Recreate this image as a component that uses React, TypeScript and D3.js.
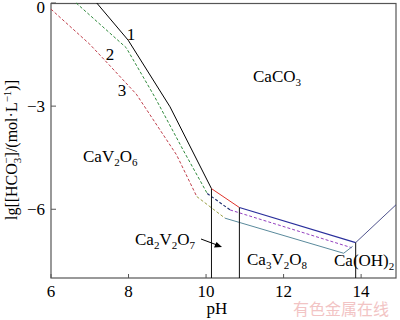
import React from 'react'
import * as d3 from 'd3'

type Pt = [number, number] // [pH, lg c]

// curve 1 (solid), split by solid phase
const c1CaV2O6: Pt[] = [[7.18, 0], [7.99, -1.08], [9.07, -3.02], [10.14, -5.4]]
const c1Ca2V2O7: Pt[] = [[10.14, -5.4], [10.86, -5.95]]
const c1Ca3V2O8: Pt[] = [[10.86, -5.95], [13.86, -6.97]]
const c1CaOH2: Pt[] = [[13.86, -6.97], [14.9, -5.87]]

// curve 2 (dashed)
const c2CaV2O6: Pt[] = [[6.65, 0], [7.94, -1.3], [8.67, -2.72], [9.41, -4.28], [10.03, -5.54]]
const c2Ca2V2O7: Pt[] = [[10.03, -5.54], [10.62, -6.02]]
const c2Ca3V2O8: Pt[] = [[10.62, -6.02], [13.76, -7.12]]

// curve 3 (dashed)
const c3CaV2O6: Pt[] = [[6.0, -0.18], [7.0, -1.2], [7.5, -1.8], [8.2, -2.65], [9.24, -4.42], [9.76, -5.63]]
const c3Ca2V2O7: Pt[] = [[9.76, -5.63], [10.49, -6.26]]
const c3Ca3V2O8: Pt[] = [[10.49, -6.26], [13.55, -7.28], [13.78, -7.08]]

// phase borders down to the axis
const borderPH = [10.14, 10.86, 13.86]
const borderTop = [-5.4, -5.95, -6.97]

const xTicks = [6, 8, 10, 12, 14]
const yTicks = [0, -3, -6]

const serif = "'Liberation Serif', 'DejaVu Serif', serif"

const App = () => {
  const x = d3.scaleLinear().domain([6, 14.9]).range([51, 396])
  const y = d3.scaleLinear().domain([-8, 0]).range([278, 3])
  const line = d3
    .line<Pt>()
    .x((d) => x(d[0]))
    .y((d) => y(d[1]))

  const segs = [
    { d: c1CaV2O6, c: '#000000', dash: '', w: 1 },
    { d: c1Ca2V2O7, c: '#e0342c', dash: '', w: 1 },
    { d: c1Ca3V2O8, c: '#2a2f9c', dash: '', w: 1.2 },
    { d: c1CaOH2, c: '#3b3f80', dash: '', w: 0.9 },
    { d: c2CaV2O6, c: '#2f8a3c', dash: '3,2', w: 1 },
    { d: c2Ca2V2O7, c: '#1c2c6c', dash: '3,2', w: 1.1 },
    { d: c2Ca3V2O8, c: '#9440c0', dash: '3,2', w: 1 },
    { d: c3CaV2O6, c: '#c0404c', dash: '3,2', w: 1 },
    { d: c3Ca2V2O7, c: '#9aa044', dash: '3,2', w: 1 },
    { d: c3Ca3V2O8, c: '#5a8a9c', dash: '', w: 1 },
  ]

  return (
    <svg
      width={400}
      height={320}
      style={{ position: 'absolute', left: 0, top: 0, background: '#fff', fontFamily: serif }}
    >
      {/* frame */}
      <rect x={51} y={3.5} width={345} height={274.5} fill="none" stroke="#555" strokeWidth={1.2} />

      {xTicks.map((t) => (
        <g key={'x' + t}>
          <line x1={x(t)} x2={x(t)} y1={y(-8)} y2={y(-8) - 4} stroke="#555" />
          <text x={x(t)} y={297} fontSize={17} textAnchor="middle">
            {t}
          </text>
        </g>
      ))}
      {yTicks.map((t) => (
        <g key={'y' + t}>
          <line x1={x(6)} x2={x(6) + 5} y1={y(t)} y2={y(t)} stroke="#555" />
          <text x={45} y={Math.max(y(t) + 6, 13)} fontSize={17} textAnchor="end">
            {t === 0 ? '0' : '\u2212' + Math.abs(t)}
          </text>
        </g>
      ))}

      {segs.map((s, i) => (
        <path
          key={i}
          d={line(s.d) || ''}
          fill="none"
          stroke={s.c}
          strokeWidth={s.w}
          strokeDasharray={s.dash || undefined}
        />
      ))}

      {borderPH.map((p, i) => (
        <line key={'b' + i} x1={x(p)} x2={x(p)} y1={y(borderTop[i])} y2={y(-8)} stroke="#111" strokeWidth={1} />
      ))}

      {/* curve numbers */}
      <text x={131} y={40} fontSize={17} textAnchor="middle">1</text>
      <text x={110} y={60} fontSize={17} textAnchor="middle">2</text>
      <text x={122} y={96} fontSize={17} textAnchor="middle">3</text>

      {/* phase labels */}
      <text x={253} y={82} fontSize={17}>
        CaCO<tspan fontSize={11} dy={4}>3</tspan>
      </text>
      <text x={83} y={162} fontSize={17}>
        CaV<tspan fontSize={11} dy={4}>2</tspan>
        <tspan dy={-4}>O</tspan>
        <tspan fontSize={11} dy={4}>6</tspan>
      </text>
      <text x={135} y={245} fontSize={17}>
        Ca<tspan fontSize={11} dy={4}>2</tspan>
        <tspan dy={-4}>V</tspan>
        <tspan fontSize={11} dy={4}>2</tspan>
        <tspan dy={-4}>O</tspan>
        <tspan fontSize={11} dy={4}>7</tspan>
      </text>
      <line x1={201} y1={239} x2={217} y2={245} stroke="#000" strokeWidth={1} />
      <path d="M222,247 L214,247.5 L216.5,242 Z" fill="#000" />
      <text x={247} y={265} fontSize={17}>
        Ca<tspan fontSize={11} dy={4}>3</tspan>
        <tspan dy={-4}>V</tspan>
        <tspan fontSize={11} dy={4}>2</tspan>
        <tspan dy={-4}>O</tspan>
        <tspan fontSize={11} dy={4}>8</tspan>
      </text>
      <text x={334} y={266} fontSize={17}>
        Ca(OH)<tspan fontSize={11} dy={4}>2</tspan>
      </text>

      {/* axis titles */}
      <text x={217} y={314} fontSize={17} textAnchor="middle">pH</text>
      <text transform="translate(17,150) rotate(-90)" fontSize={16} textAnchor="middle">
        lg[[HCO<tspan fontSize={11} dy={4}>3</tspan>
        <tspan fontSize={11} dx={-6} dy={-11}>{'\u2212'}</tspan>
        <tspan dy={7}>]/(mol·L</tspan>
        <tspan fontSize={11} dy={-6}>{'\u22121'}</tspan>
        <tspan dy={6}>)]</tspan>
      </text>

      {/* watermark */}
      <text x={293} y={315} fontSize={16} fill="#f2c4c4" style={{ fontFamily: "'Noto Sans CJK SC', sans-serif" }}>
        有色金属在线
      </text>
    </svg>
  )
}

export default App
